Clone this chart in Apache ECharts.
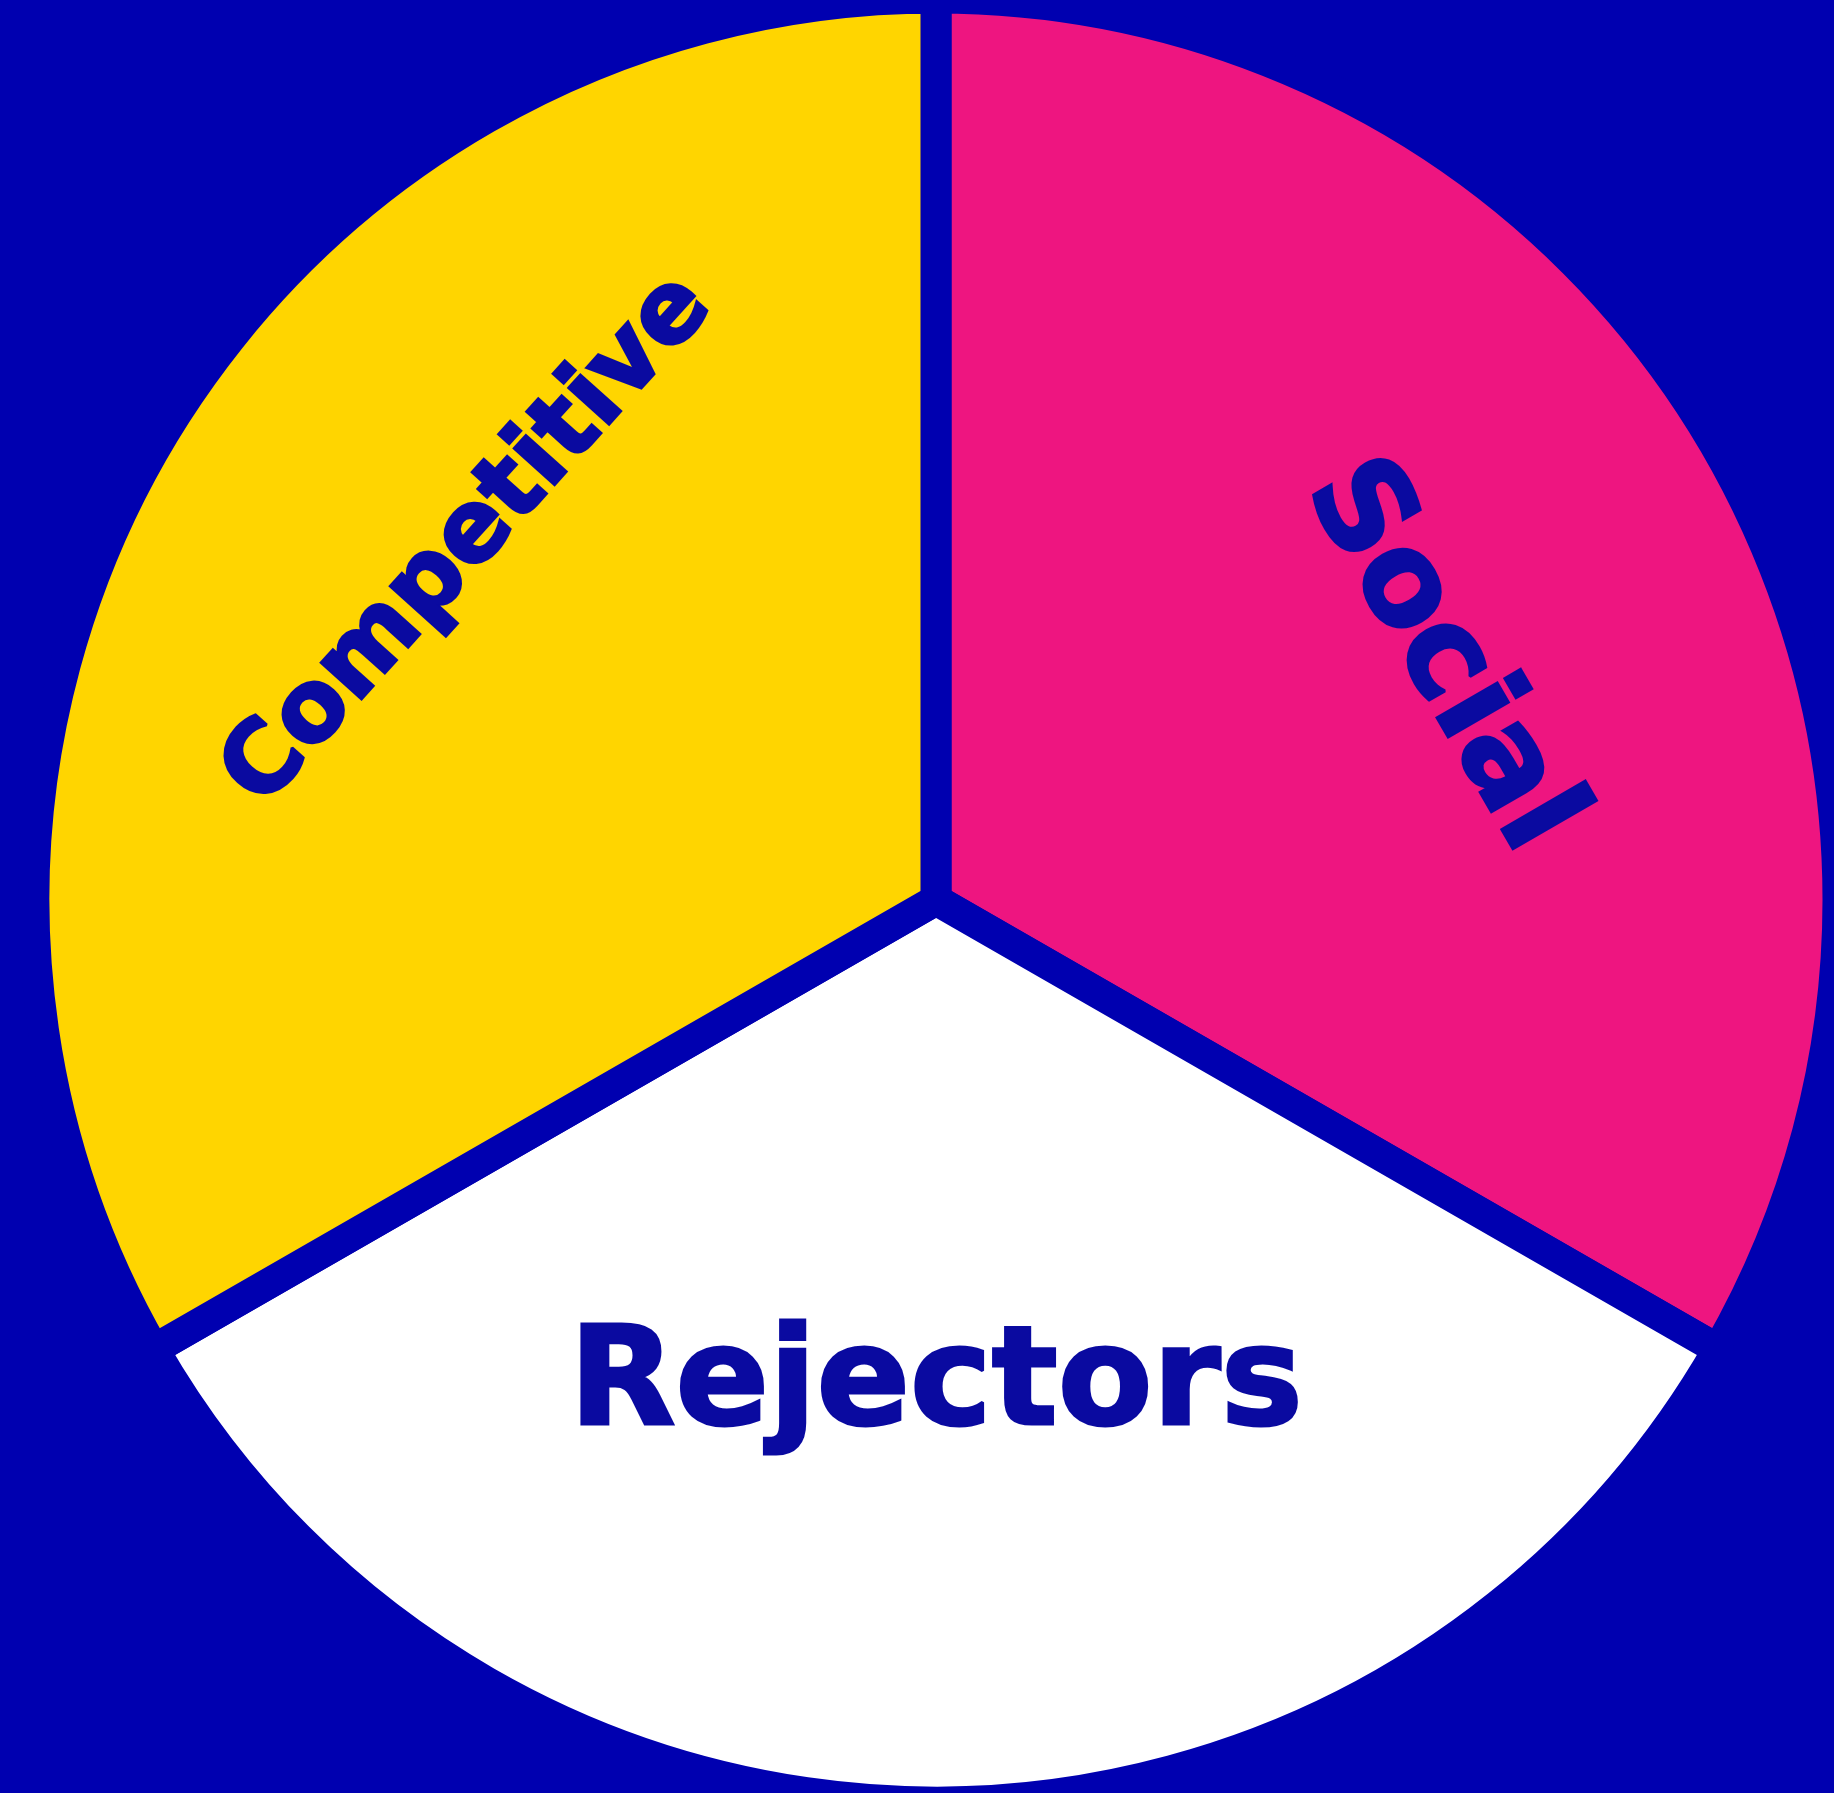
<!DOCTYPE html>
<html>
<head>
<meta charset="utf-8">
<script src="https://cdn.jsdelivr.net/npm/echarts@6/dist/echarts.min.js"></script>
<style>
  html, body { margin: 0; padding: 0; background: #0000b0; }
  #chart { width: 1834px; height: 1793px; }
</style>
</head>
<body>
<div id="chart"></div>
<script>
// Data
const categories = ['Social', 'Rejectors', 'Competitive'];
const values = [33.3, 33.4, 33.3];
const sliceColors = ['#ee1580', '#ffffff', '#ffd500'];

// Styling
const BG = '#0000b0';
const LABEL_COLOR = '#0a0aa0';
const labelSizes = [127, 138, 99];
const labelRotate = ['tangential', 'tangential', 48];
// offsets in each label's own (rotated) frame
const labelShift = [[42, -104], [0, 34], [48, -143]];

const chart = echarts.init(document.getElementById('chart'), null, { renderer: 'canvas' });

const data = categories.map((name, i) => ({
  name: name,
  value: values[i],
  itemStyle: { color: sliceColors[i] },
  label: { fontSize: labelSizes[i], rotate: labelRotate[i] }
}));

chart.setOption({
  backgroundColor: BG,
  animation: false,
  series: [{
    type: 'pie',
    center: [936, 900],
    radius: [0, 902],
    startAngle: 90,
    clockwise: true,
    avoidLabelOverlap: false,
    itemStyle: { borderColor: BG, borderWidth: 31 },
    label: {
      show: true,
      position: 'inside',
      color: LABEL_COLOR,
      fontFamily: 'DejaVu Sans',
      fontWeight: 'bold',
      textBorderColor: LABEL_COLOR,
      textBorderWidth: 3,
      formatter: '{b}'
    },
    labelLine: { show: false },
    labelLayout: function (p) {
      const s = labelShift[p.dataIndex];
      return { dx: s[0], dy: s[1] };
    },
    emphasis: { disabled: true },
    data: data
  }]
});
</script>
</body>
</html>
